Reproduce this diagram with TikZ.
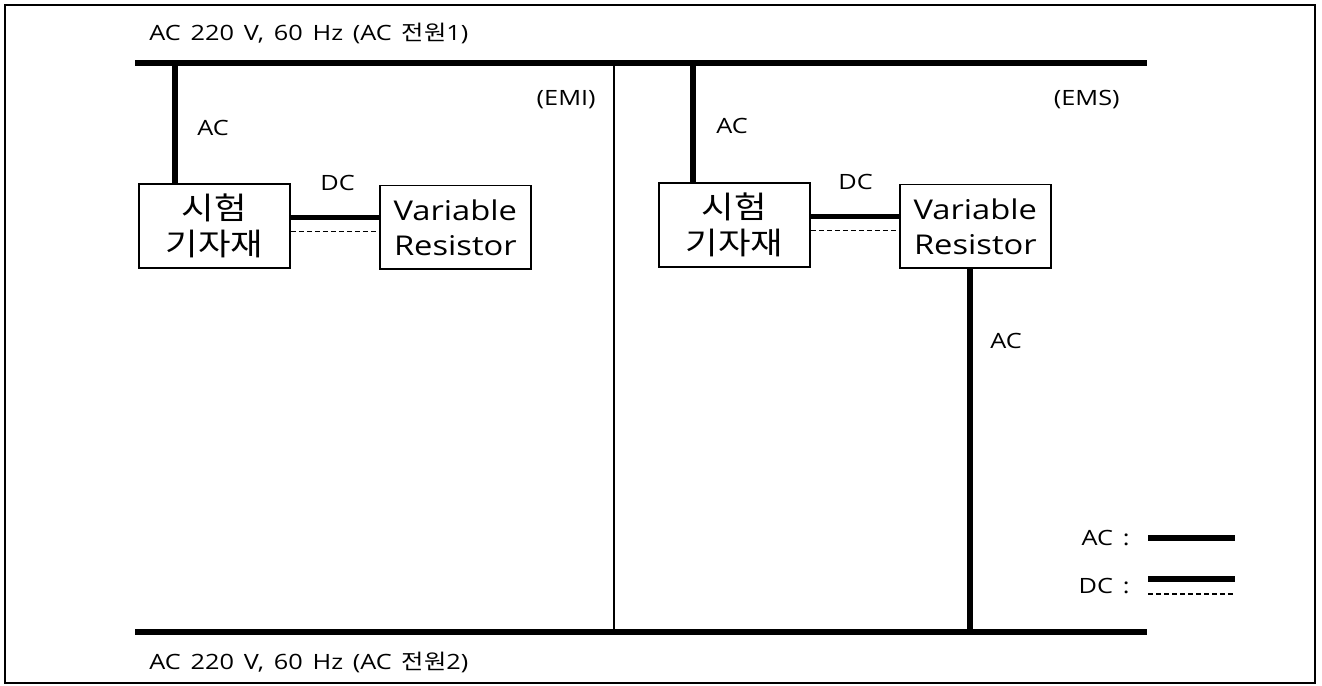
\documentclass[tikz,border=0pt]{standalone}
\usepackage{fontspec}
\setmainfont{Open Sans}[FakeStretch=1.2, WordSpace=1.5]
\newfontfamily\krfont{Noto Sans CJK KR}[FakeStretch=1.15]
\usetikzlibrary{positioning}
\definecolor{inkblack}{HTML}{000000}

\begin{document}
\begin{tikzpicture}[
  x=0.02cm, y=-0.02cm,
  font=\fontsize{12}{14}\selectfont,
  frame/.style  = {draw=inkblack, line width=1.1pt},
  bus/.style    = {draw=inkblack, line width=2.9pt},
  acline/.style = {draw=inkblack, line width=2.9pt},
  dcline/.style = {draw=inkblack, line width=3.1pt},
  dcdash/.style = {draw=inkblack, line width=1pt, dash pattern=on 1mm off 0.6mm},
  divider/.style= {draw=inkblack, line width=1.1pt},
  unit/.style   = {draw=inkblack, line width=1.1pt, minimum width=30.2mm, minimum height=16.8mm,
                   align=center, inner sep=0pt, font=\fontsize{15.5}{20}\selectfont},
  kor/.style    = {font=\fontsize{17.5}{20.5}\krfont},
  lbl/.style    = {inner sep=0pt, anchor=west},
]

% ---------- frame and bounding box ----------------------------------------------------------
\useasboundingbox (0,0) rectangle (1322,686);
\draw[frame] (5,5) rectangle (1315,683);

% ---------- supply lines --------------------------------------------------------------------
\coordinate (ta) at (135,63);
\coordinate (tb) at (1147,63);
\coordinate (ba) at (135,632);
\coordinate (bb) at (1147,632);
\draw[bus] (ta) -- (tb);
\draw[bus] (ba) -- (bb);
\node[lbl] (top) at (149,33)  {AC 220 V, 60 Hz (AC {\krfont 전원}1)};
\node[lbl] (bot) at (149,662) {AC 220 V, 60 Hz (AC {\krfont 전원}2)};

\coordinate (mt) at (614,63);
\coordinate (mb) at (614,632);
\draw[divider] (mt) -- (mb);

% ---------- left half : EMI -----------------------------------------------------------------
\node[unit, kor, anchor=north west] (eut1) at (138,183) {시험\\기자재};
\node[unit, right=17.6mm of eut1, yshift=-0.3mm] (vr1) {Variable\\Resistor};
\coordinate (s1) at (175,63);
\draw[acline] (s1) -- (s1 |- eut1.north);
\node[lbl] (ac1) at (197,128) {AC};
\draw[dcline] ([yshift=1.7mm]eut1.east) -- ([yshift=1.7mm]eut1.east -| vr1.west);
\draw[dcdash] ([yshift=-1.1mm]eut1.east) -- ([yshift=-1.1mm]eut1.east -| vr1.west);
\node[lbl] (dc1) at (320,183) {DC};
\node[lbl, anchor=east] (emi) at (596,100) {(EMI)};

% ---------- right half : EMS ----------------------------------------------------------------
\node[unit, kor, anchor=north west] (eut2) at (658,182) {시험\\기자재};
\node[unit, right=17.6mm of eut2, yshift=-0.3mm] (vr2) {Variable\\Resistor};
\coordinate (s2) at (693,63);
\draw[acline] (s2) -- (s2 |- eut2.north);
\node[lbl] (ac2) at (716,126) {AC};
\draw[dcline] ([yshift=1.7mm]eut2.east) -- ([yshift=1.7mm]eut2.east -| vr2.west);
\draw[dcdash] ([yshift=-1.1mm]eut2.east) -- ([yshift=-1.1mm]eut2.east -| vr2.west);
\node[lbl] (dc2) at (838,182) {DC};
\node[lbl, anchor=east] (ems) at (1120,100) {(EMS)};

\coordinate (r2) at (970,632);
\draw[acline] (vr2.south -| r2) -- (r2);
\node[lbl] (ac3) at (990,341) {AC};

% ---------- legend ---------------------------------------------------------------------------
\node[lbl, anchor=east] (kac) at (1130,538) {AC :};
\coordinate (kac1) at (1148,538);
\coordinate (kac2) at (1235,538);
\draw[acline] (kac1) -- (kac2);
\node[lbl, anchor=east] (kdc) at (1130,586) {DC :};
\coordinate (kdc1) at (1148,579);
\coordinate (kdc2) at (1235,579);
\coordinate (kdc3) at (1148,594);
\coordinate (kdc4) at (1235,594);
\draw[dcline] (kdc1) -- (kdc2);
\draw[dcdash] (kdc3) -- (kdc4);

\end{tikzpicture}
\end{document}
